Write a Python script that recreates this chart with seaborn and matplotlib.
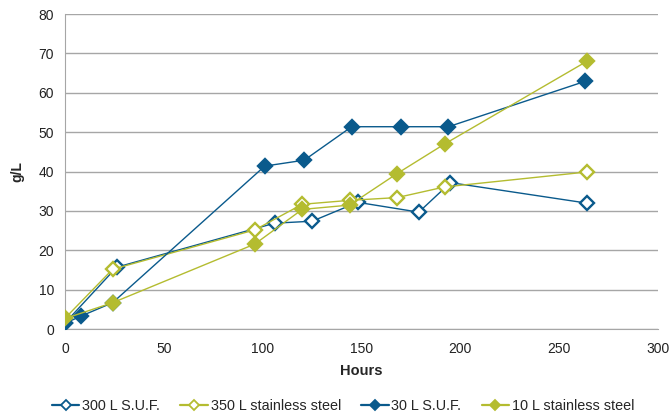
import matplotlib
matplotlib.use('Agg')
import matplotlib.pyplot as plt
from matplotlib.lines import Line2D
import seaborn as sns
import pandas as pd

# data
hours_300suf = [0, 26, 106, 125, 148, 179, 195, 264]
gl_300suf = [1.6, 15.7, 26.9, 27.4, 32.2, 29.7, 37.2, 32.0]

hours_350ss = [0, 24, 96, 120, 144, 168, 192, 264]
gl_350ss = [2.8, 15.2, 25.2, 31.7, 32.7, 33.4, 36.1, 39.9]

hours_30suf = [0, 8, 24, 101, 121, 145, 170, 194, 263]
gl_30suf = [1.5, 3.3, 6.7, 41.4, 42.9, 51.4, 51.4, 51.4, 62.9]

hours_10ss = [0, 24, 96, 120, 144, 168, 192, 264]
gl_10ss = [2.7, 6.7, 21.6, 30.4, 31.5, 39.5, 47.0, 68.0]

names = ['300 L S.U.F.', '350 L stainless steel', '30 L S.U.F.', '10 L stainless steel']

blue = '#0A5A8C'
green = '#B4BC30'

sns.set_style('white')
plt.rcParams['font.family'] = ['Liberation Sans', 'DejaVu Sans']

fig, ax = plt.subplots(figsize=(6.72, 4.15), dpi=100)
fig.subplots_adjust(left=0.097, right=0.979, top=0.966, bottom=0.207)

series = [
    (hours_300suf, gl_300suf, names[0], blue, 'white'),
    (hours_350ss, gl_350ss, names[1], green, 'white'),
    (hours_30suf, gl_30suf, names[2], blue, blue),
    (hours_10ss, gl_10ss, names[3], green, green),
]
leg_handles = []
for x, y, name, col, fc in series:
    df = pd.DataFrame({'Hours': x, 'g/L': y})
    sns.lineplot(data=df, x='Hours', y='g/L', ax=ax, color=col, linewidth=1.0,
                 marker='D', markersize=7.5, markerfacecolor=fc,
                 markeredgecolor=col, markeredgewidth=1.7,
                 sort=False, zorder=3)
    # legend swatch: thicker line, small marker
    leg_handles.append(Line2D([], [], color=col, linewidth=1.6, marker='D', markersize=5,
                              markerfacecolor=fc, markeredgecolor=col, markeredgewidth=1.3))

ax.set_xlim(0, 300)
ax.set_ylim(0, 80)
ax.set_xticks(range(0, 301, 50))
ax.set_yticks(range(0, 81, 10))
ax.yaxis.grid(True, color='#A6A6A6', linewidth=1.0)
ax.xaxis.grid(False)
for s in ['top', 'right']:
    ax.spines[s].set_visible(False)
for s in ['left', 'bottom']:
    ax.spines[s].set_color('#A6A6A6')
ax.tick_params(axis='x', direction='out', length=4, color='#A6A6A6', labelsize=10, pad=5,
               labelcolor='#222222')
ax.tick_params(axis='y', direction='out', length=4, color='#A6A6A6', labelsize=10, pad=4,
               labelcolor='#222222')
ax.set_xlabel('Hours', fontsize=10.5, fontweight='bold', labelpad=6)
ax.set_ylabel('g/L', fontsize=10, fontweight='bold', labelpad=10)

ax.legend(leg_handles, names, loc='center', bbox_to_anchor=(0.469, -0.245), ncol=4,
          frameon=False, fontsize=10.4, handlelength=1.9, columnspacing=1.4,
          handletextpad=0.2)

plt.savefig('out.png', dpi=100)
